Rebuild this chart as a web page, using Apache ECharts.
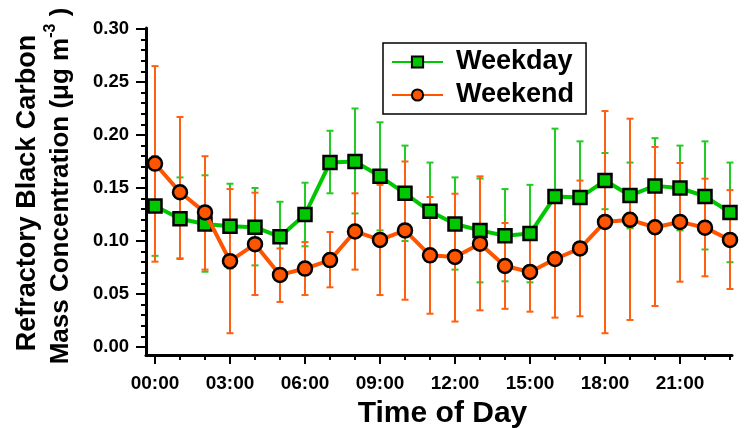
<!DOCTYPE html>
<html>
<head>
<meta charset="utf-8">
<script src="https://cdn.jsdelivr.net/npm/echarts@6/dist/echarts.min.js"></script>
<style>
html,body{margin:0;padding:0;background:#fff;}
#chart{width:744px;height:428px;}
</style>
</head>
<body>
<div id="chart"></div>
<script>
// ---- data ----
var hours = [0,1,2,3,4,5,6,7,8,9,10,11,12,13,14,15,16,17,18,19,20,21,22,23];
var weekday     = [0.133,0.121,0.116,0.114,0.113,0.104,0.125,0.174,0.175,0.161,0.145,0.128,0.116,0.110,0.105,0.107,0.142,0.141,0.157,0.143,0.152,0.150,0.142,0.127];
var weekdayHigh = [0.180,0.160,0.162,0.154,0.150,0.137,0.155,0.204,0.225,0.212,0.190,0.174,0.160,0.159,0.149,0.153,0.206,0.194,0.183,0.174,0.197,0.190,0.194,0.174];
var weekdayLow  = [0.086,0.083,0.071,0.074,0.077,0.071,0.095,0.145,0.126,0.110,0.100,0.082,0.073,0.061,0.062,0.061,0.078,0.088,0.130,0.112,0.107,0.110,0.092,0.080];
var weekend     = [0.173,0.146,0.127,0.081,0.097,0.068,0.074,0.082,0.109,0.101,0.110,0.0865,0.085,0.0975,0.0764,0.0708,0.083,0.093,0.118,0.120,0.113,0.118,0.1126,0.101];
var weekendHigh = [0.265,0.217,0.180,0.149,0.1456,0.093,0.099,0.1085,0.145,0.153,0.175,0.1415,0.1446,0.161,0.117,0.108,0.139,0.157,0.2226,0.2154,0.1887,0.1736,0.1588,0.148];
var weekendLow  = [0.0805,0.0837,0.073,0.013,0.049,0.0425,0.049,0.0563,0.073,0.049,0.0446,0.0314,0.024,0.0346,0.036,0.0333,0.0277,0.029,0.013,0.0255,0.0387,0.0616,0.0667,0.0547];
var xTickHours  = [0,3,6,9,12,15,18,21];
var xTickLabels = ['00:00','03:00','06:00','09:00','12:00','15:00','18:00','21:00'];
var yTickValues = [0,0.05,0.10,0.15,0.20,0.25,0.30];
var yTickLabels = ['0.00','0.05','0.10','0.15','0.20','0.25','0.30'];
var seriesNames = ['Weekday','Weekend'];

var GREEN = '#00C800', ORANGE = '#FF5500';
var FONT = "'Liberation Sans', Arial, sans-serif";

function pairs(v){ return hours.map(function(h,i){ return [h, v[i]]; }); }
function errData(lo, hi){ return hours.map(function(h,i){ return [h, lo[i], hi[i]]; }); }
function errRender(color){
  return function(params, api){
    var x = api.value(0);
    var pLo = api.coord([x, api.value(1)]);
    var pHi = api.coord([x, api.value(2)]);
    var hw = 3.5;
    var st = {stroke: color, lineWidth: 2};
    return {type:'group', children:[
      {type:'line', shape:{x1:pLo[0], y1:pLo[1], x2:pHi[0], y2:pHi[1]}, style:st},
      {type:'line', shape:{x1:pHi[0]-hw, y1:pHi[1], x2:pHi[0]+hw, y2:pHi[1]}, style:st},
      {type:'line', shape:{x1:pLo[0]-hw, y1:pLo[1], x2:pLo[0]+hw, y2:pLo[1]}, style:st}
    ]};
  };
}
function findLabel(vals, labels, v){
  for (var i=0;i<vals.length;i++){ if (Math.abs(vals[i]-v)<1e-6) return labels[i]; }
  return '';
}

var chart = echarts.init(document.getElementById('chart'), null, {renderer:'canvas'});
var tickStyle = {color:'#000', width:2};
var option = {
  animation:false,
  backgroundColor:'#fff',
  grid:[
    {left:155, right:14, top:29, bottom:81, containLabel:false, outerBoundsMode:'none'},
    {left:146, right:12, top:28, bottom:73, containLabel:false, outerBoundsMode:'none'}
  ],
  xAxis:[
    {type:'value', gridIndex:0, min:0, max:23, interval:3, position:'bottom', offset:8,
      splitLine:{show:false}, axisLine:{show:false, onZero:false},
      axisTick:{show:true, length:9, lineStyle:tickStyle},
      axisLabel:{show:true, margin:19.5, showMinLabel:true, showMaxLabel:false,
        formatter:function(v){ return findLabel(xTickHours, xTickLabels, v); },
        color:'#000', fontFamily:FONT, fontWeight:'bold', fontSize:19},
      name:'Time of Day', nameLocation:'middle', nameGap:36,
      nameTextStyle:{color:'#000', fontFamily:FONT, fontWeight:'bold', fontSize:30}},
    {type:'value', gridIndex:0, min:0, max:23, interval:1, position:'bottom', offset:8,
      splitLine:{show:false}, axisLine:{show:false, onZero:false},
      axisTick:{show:true, length:5, lineStyle:tickStyle}, axisLabel:{show:false}},
    {type:'value', gridIndex:1, min:0, max:1, position:'bottom',
      splitLine:{show:false}, axisLine:{show:true, onZero:false, lineStyle:{color:'#000', width:3}},
      axisTick:{show:false}, axisLabel:{show:false}}
  ],
  yAxis:[
    {type:'value', gridIndex:0, min:0, max:0.30, interval:0.05, position:'left', offset:9,
      splitLine:{show:false}, axisLine:{show:false, onZero:false},
      axisTick:{show:true, length:10, lineStyle:tickStyle},
      axisLabel:{show:true, margin:17,
        formatter:function(v){ return findLabel(yTickValues, yTickLabels, v); },
        color:'#000', fontFamily:FONT, fontWeight:'bold', fontSize:18.5}},
    {type:'value', gridIndex:0, min:0, max:0.30, interval:0.01, position:'left', offset:9,
      splitLine:{show:false}, axisLine:{show:false, onZero:false},
      axisTick:{show:true, length:5, lineStyle:tickStyle}, axisLabel:{show:false}},
    {type:'value', gridIndex:1, min:0, max:1, position:'left',
      splitLine:{show:false}, axisLine:{show:true, onZero:false, lineStyle:{color:'#000', width:3}},
      axisTick:{show:false}, axisLabel:{show:false}}
  ],
  legend:{
    orient:'vertical', left:383, top:43,
    data:seriesNames,
    itemWidth:51, itemHeight:14, itemGap:3,
    padding:[4,12,4,8],
    borderColor:'#000', borderWidth:1.5,
    lineStyle:{width:2},
    textStyle:{color:'#000', fontFamily:FONT, fontWeight:'bold', fontSize:27, lineHeight:30, padding:[0,0,0,8]}
  },
  graphic:[
    {type:'text', x:28, y:193, rotation:Math.PI/2,
      style:{text:'Refractory Black Carbon', font:"bold 27px 'Liberation Sans', Arial, sans-serif", fill:'#000', align:'center', verticalAlign:'middle'}},
    {type:'text', x:61, y:186, rotation:Math.PI/2,
      style:{text:'Mass Concentration (μg m{sup|-3}{n| )}', font:"bold 26px 'Liberation Sans', Arial, sans-serif", fill:'#000', align:'center', verticalAlign:'middle',
        rich:{sup:{font:"bold 16px 'Liberation Sans', Arial, sans-serif", fill:'#000', verticalAlign:'top', lineHeight:36},
              n:{font:"bold 26px 'Liberation Sans', Arial, sans-serif", fill:'#000'}}}}
  ],
  series:[
    {name:'WeekdayErr', type:'custom', xAxisIndex:0, yAxisIndex:0, data:errData(weekdayLow, weekdayHigh),
      renderItem:errRender('#22CC22'), encode:{x:0, y:[1,2]}, z:1, silent:true, clip:false},
    {name:'WeekendErr', type:'custom', xAxisIndex:0, yAxisIndex:0, data:errData(weekendLow, weekendHigh),
      renderItem:errRender('#FF5F10'), encode:{x:0, y:[1,2]}, z:2, silent:true, clip:false},
    {name:seriesNames[0], type:'line', xAxisIndex:0, yAxisIndex:0, data:pairs(weekday), z:3,
      symbol:'rect', symbolSize:13, showSymbol:true, clip:false,
      lineStyle:{color:GREEN, width:4},
      itemStyle:{color:GREEN, borderColor:'#000', borderWidth:2.5}},
    {name:seriesNames[1], type:'line', xAxisIndex:0, yAxisIndex:0, data:pairs(weekend), z:4,
      symbol:'circle', symbolSize:14, showSymbol:true, clip:false,
      lineStyle:{color:ORANGE, width:4},
      itemStyle:{color:ORANGE, borderColor:'#000', borderWidth:2.5}}
  ]
};
chart.setOption(option);
</script>
</body>
</html>
